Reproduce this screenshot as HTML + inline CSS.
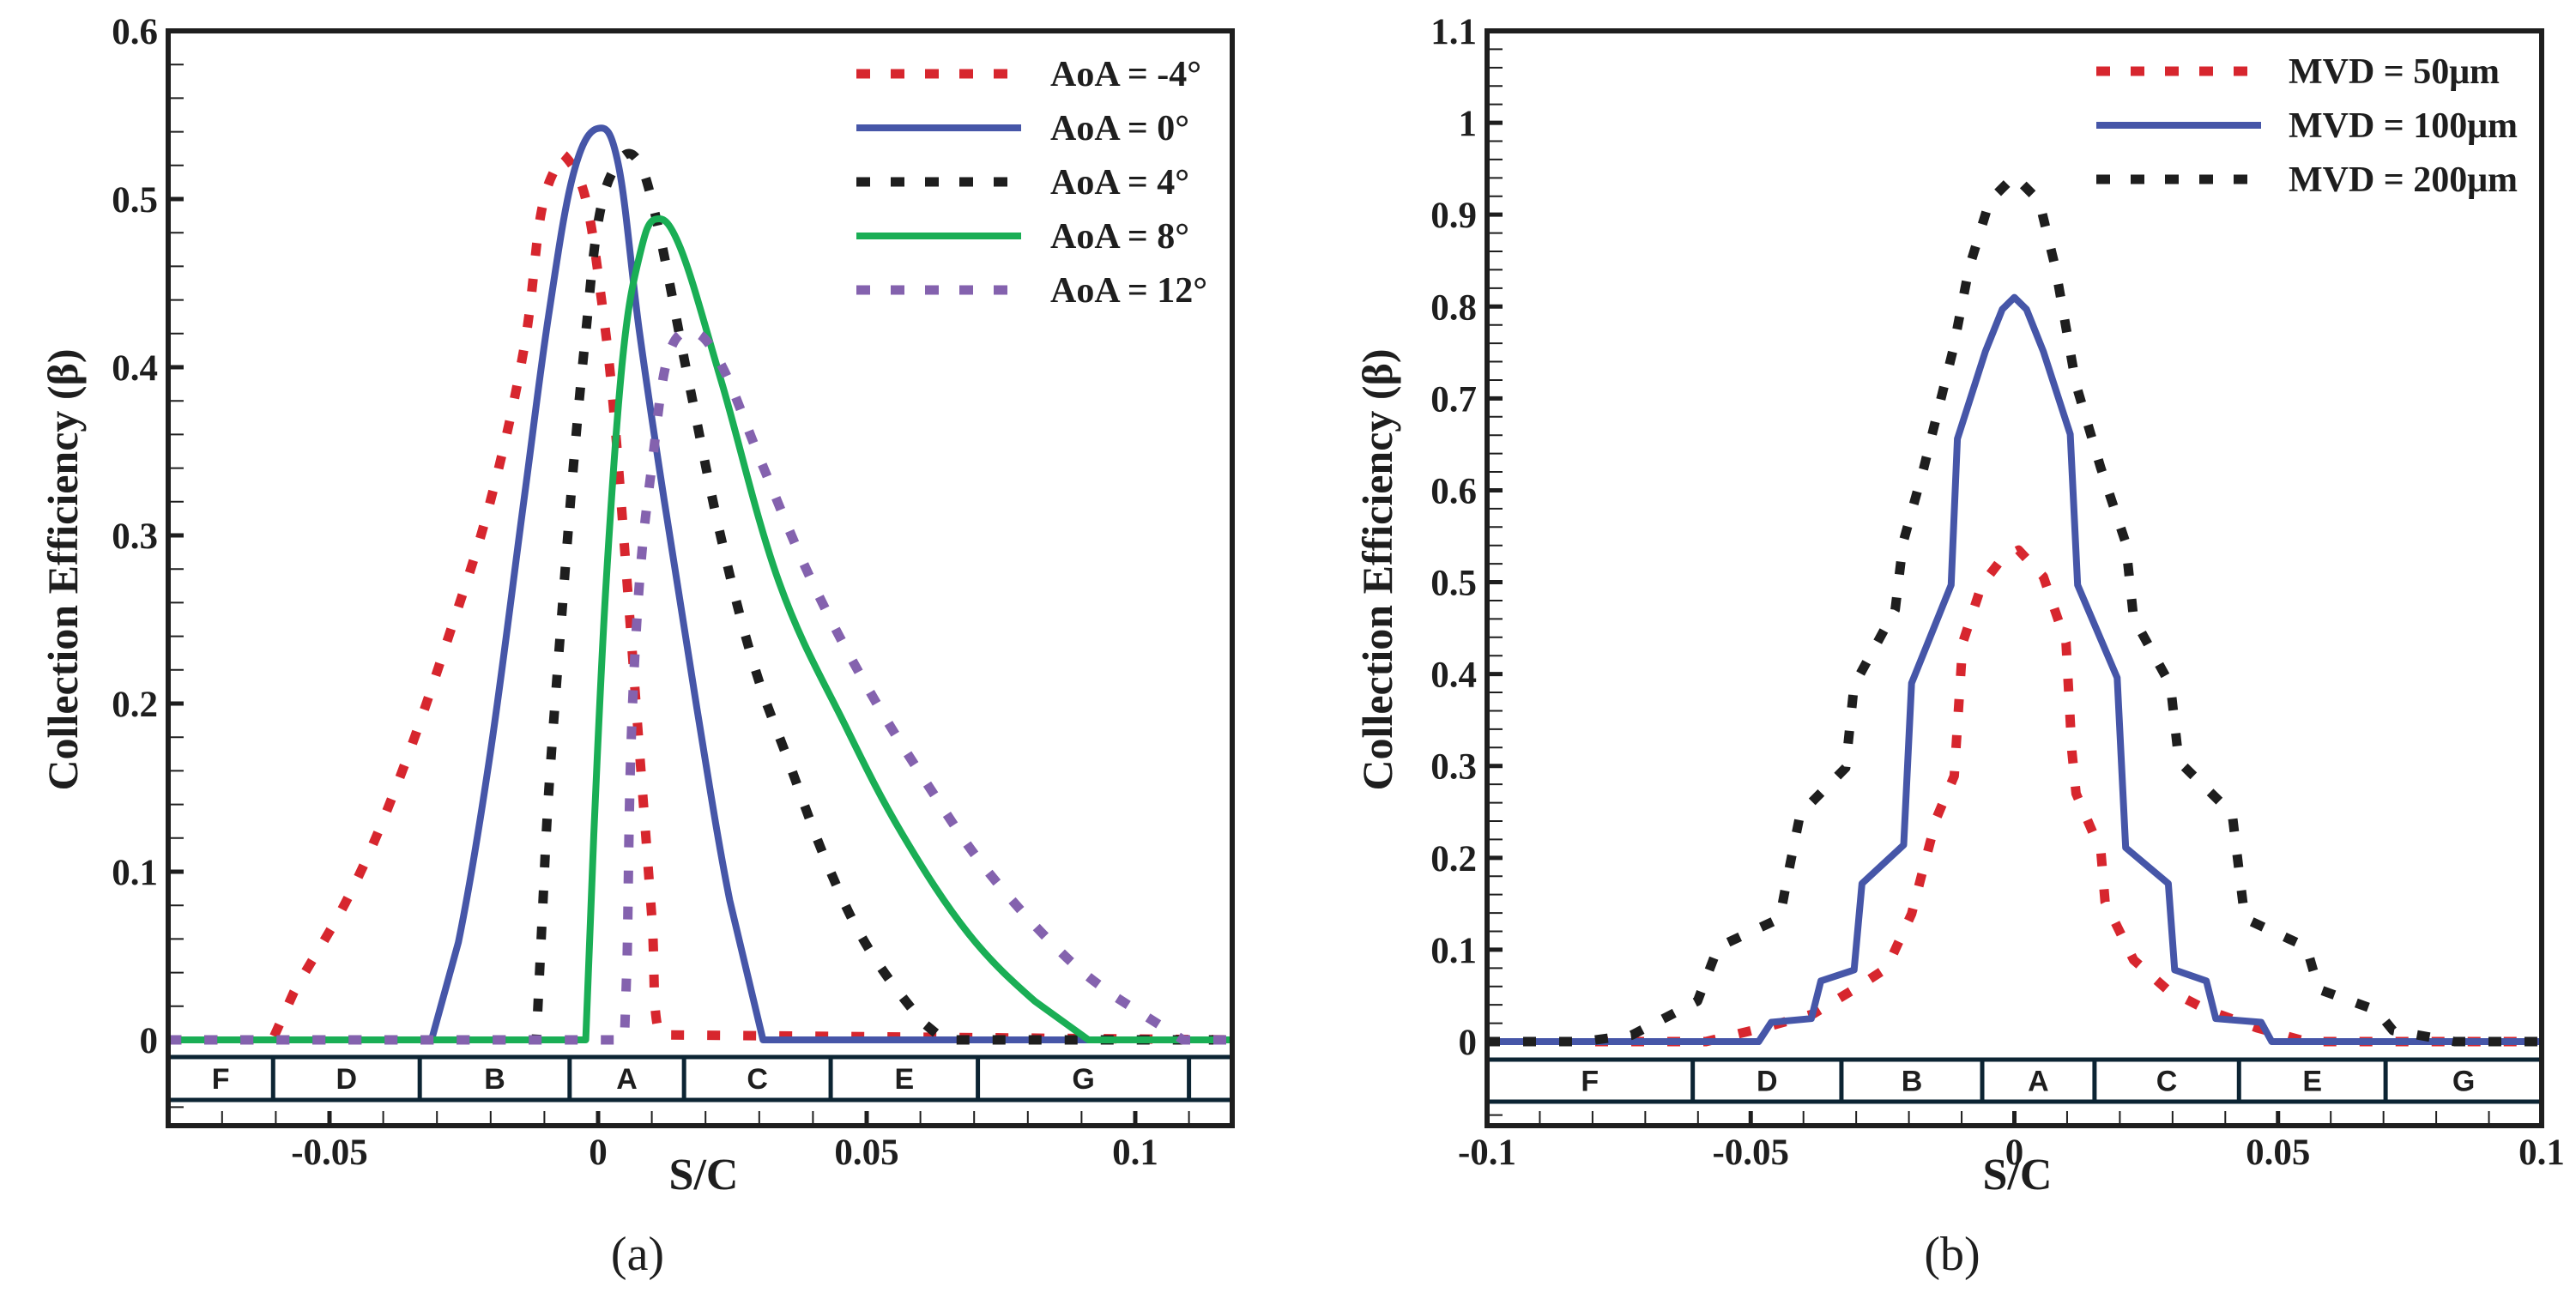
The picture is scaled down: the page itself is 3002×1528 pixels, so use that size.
<!DOCTYPE html>
<html><head><meta charset="utf-8"><style>
html,body{margin:0;padding:0;background:#fff;}
svg{display:block;}
text{font-family:"Liberation Serif",serif;}
</style></head><body>
<svg id="root" width="3002" height="1528" viewBox="0 0 3002 1528" xmlns="http://www.w3.org/2000/svg"></svg>
<script>
// ---------- Chart (a) data ----------
const aXTicks = [-0.05, 0, 0.05, 0.1];
const aXTickLabels = ["-0.05", "0", "0.05", "0.1"];
const aYTicks = [0, 0.1, 0.2, 0.3, 0.4, 0.5, 0.6];
const aYTickLabels = ["0", "0.1", "0.2", "0.3", "0.4", "0.5", "0.6"];
const aZoneNames = ["F", "D", "B", "A", "C", "E", "G", ""];
const aZoneBounds = [-0.0605, -0.0332, -0.0053, 0.016, 0.0433, 0.0707, 0.110];
const aLegend = ["AoA = -4°", "AoA = 0°", "AoA = 4°", "AoA = 8°", "AoA = 12°"];
const aM4x = [-0.08, -0.0606, -0.0567, -0.046, -0.0368, -0.0276, -0.02, -0.0138, -0.0107, -0.0077, -0.006, -0.0023, 0.0008, 0.003, 0.0054, 0.0077, 0.01, 0.0115, 0.118];
const aM4y = [0, 0, 0.028, 0.088, 0.157, 0.242, 0.321, 0.411, 0.49, 0.52, 0.525, 0.5, 0.436, 0.371, 0.272, 0.172, 0.073, 0.003, 0];
const a0x = [-0.08, -0.031, -0.026, -0.02, -0.0138, -0.0092, -0.0046, 0, 0.0038, 0.0077, 0.0123, 0.0184, 0.0245, 0.0307, 0.118];
const a0y = [0, 0, 0.058, 0.172, 0.321, 0.431, 0.515, 0.542, 0.52, 0.421, 0.321, 0.197, 0.083, 0, 0];
const a4x = [-0.08, -0.0115, -0.0104, -0.0092, -0.0069, -0.0046, -0.0023, 0, 0.003, 0.0069, 0.0107, 0.0169, 0.023, 0.0291, 0.0353, 0.043, 0.0506, 0.0606, 0.0644, 0.118];
const a4y = [0, 0, 0.073, 0.147, 0.247, 0.341, 0.42, 0.486, 0.518, 0.525, 0.49, 0.391, 0.297, 0.222, 0.167, 0.102, 0.053, 0.010, 0, 0];
const a8x = [-0.08, -0.0023, -0.0008, 0.0015, 0.0046, 0.0077, 0.0107, 0.0153, 0.023, 0.0337, 0.046, 0.0567, 0.069, 0.0813, 0.0913, 0.118];
const a8y = [0, 0, 0.122, 0.272, 0.406, 0.466, 0.488, 0.471, 0.391, 0.272, 0.187, 0.122, 0.063, 0.023, 0, 0];
const a12x = [-0.08, 0.0049, 0.0054, 0.0061, 0.0077, 0.01, 0.013, 0.0176, 0.023, 0.0307, 0.0399, 0.0506, 0.0613, 0.0721, 0.0859, 0.0966, 0.1089, 0.118];
const a12y = [0, 0, 0.048, 0.172, 0.272, 0.341, 0.406, 0.421, 0.401, 0.341, 0.272, 0.207, 0.152, 0.102, 0.053, 0.025, 0, 0];

// ---------- Chart (b) data ----------
const bXTicks = [-0.1, -0.05, 0, 0.05, 0.1];
const bXTickLabels = ["-0.1", "-0.05", "0", "0.05", "0.1"];
const bYTicks = [0, 0.1, 0.2, 0.3, 0.4, 0.5, 0.6, 0.7, 0.8, 0.9, 1, 1.1];
const bYTickLabels = ["0", "0.1", "0.2", "0.3", "0.4", "0.5", "0.6", "0.7", "0.8", "0.9", "1", "1.1"];
const bZoneNames = ["F", "D", "B", "A", "C", "E", "G"];
const bZoneBounds = [-0.061, -0.0328, -0.0061, 0.0152, 0.0426, 0.0704];
const bLegend = ["MVD = 50μm", "MVD = 100μm", "MVD = 200μm"];
const b50x = [-0.1, -0.0585, -0.0476, -0.0382, -0.0304, -0.0242, -0.0195, -0.0148, -0.0114, -0.0098, -0.0062, -0.0023, 0.0008, 0.0055, 0.0098, 0.0109, 0.0117, 0.0164, 0.0172, 0.0226, 0.0289, 0.0367, 0.046, 0.0554, 0.1];
const b50y = [0, 0, 0.015, 0.03, 0.057, 0.08, 0.139, 0.243, 0.289, 0.434, 0.497, 0.526, 0.535, 0.506, 0.434, 0.316, 0.27, 0.207, 0.152, 0.089, 0.057, 0.034, 0.015, 0, 0];
const b100x = [-0.1, -0.0485, -0.0461, -0.0385, -0.0367, -0.0304, -0.0289, -0.021, -0.0195, -0.012, -0.0108, -0.0055, -0.0023, 0, 0.0023, 0.0055, 0.0106, 0.012, 0.0195, 0.0211, 0.0292, 0.0304, 0.0364, 0.0382, 0.0468, 0.0488, 0.1];
const b100y = [0, 0, 0.021, 0.025, 0.066, 0.078, 0.172, 0.214, 0.39, 0.497, 0.656, 0.751, 0.797, 0.81, 0.797, 0.751, 0.661, 0.497, 0.396, 0.211, 0.172, 0.078, 0.066, 0.025, 0.021, 0, 0];
const b200x = [-0.1, -0.082, -0.0726, -0.0601, -0.0562, -0.0445, -0.043, -0.0406, -0.032, -0.0304, -0.0226, -0.0211, -0.0172, -0.0117, -0.0086, -0.0047, 0, 0.0047, 0.0078, 0.0117, 0.0164, 0.0211, 0.0226, 0.0296, 0.0312, 0.0413, 0.0437, 0.0554, 0.0577, 0.0687, 0.0718, 0.0835, 0.1];
const b200y = [0, 0, 0.007, 0.044, 0.103, 0.134, 0.18, 0.248, 0.298, 0.388, 0.47, 0.543, 0.624, 0.751, 0.842, 0.915, 0.942, 0.915, 0.842, 0.715, 0.624, 0.543, 0.461, 0.388, 0.305, 0.248, 0.134, 0.103, 0.057, 0.034, 0.012, 0, 0];

const NS = "http://www.w3.org/2000/svg";
const root = document.getElementById('root');
function mk(tag, attrs, parent) {
  const e = document.createElementNS(NS, tag);
  for (const k in attrs) e.setAttribute(k, attrs[k]);
  (parent || root).appendChild(e);
  return e;
}
const RED = "#d7262e", BLUE = "#4656a8", BLACK = "#1e1e1e", GREEN = "#1aae55", PURPLE = "#8462ae";
const DASH = "15 27";

function pathD(P, smooth, base) {
  let d = 'M' + P[0][0].toFixed(1) + ',' + P[0][1].toFixed(1);
  for (let i = 0; i < P.length - 1; i++) {
    const p1 = P[i], p2 = P[i + 1];
    const touches = Math.abs(p1[1] - base) < 0.5 || Math.abs(p2[1] - base) < 0.5;
    if (!smooth || touches) { d += 'L' + p2[0].toFixed(1) + ',' + p2[1].toFixed(1); continue; }
    const p0 = P[Math.max(0, i - 1)], p3 = P[Math.min(P.length - 1, i + 2)];
    const t = 0.18;
    let c1x = p1[0] + (p2[0] - p0[0]) * t, c1y = p1[1] + (p2[1] - p0[1]) * t;
    let c2x = p2[0] - (p3[0] - p1[0]) * t, c2y = p2[1] - (p3[1] - p1[1]) * t;
    c1x = Math.min(Math.max(c1x, p1[0]), p2[0]);
    c2x = Math.min(Math.max(c2x, p1[0]), p2[0]);
    c1y = Math.min(c1y, base);
    c2y = Math.min(c2y, base);
    d += 'C' + c1x.toFixed(1) + ',' + c1y.toFixed(1) + ' ' + c2x.toFixed(1) + ',' + c2y.toFixed(1) + ' ' + p2[0].toFixed(1) + ',' + p2[1].toFixed(1);
  }
  return d;
}

function drawChart(cfg) {
  const g = mk('g', {});
  
  
  const X = v => cfg.xa + (v - cfg.xva) / (cfg.xvb - cfg.xva) * (cfg.xb - cfg.xa);
  const Y = v => cfg.ya - (v - cfg.yva) / (cfg.yvb - cfg.yva) * (cfg.ya - cfg.yb);
  const L = cfg.L, R = cfg.R, T = cfg.T, B = cfg.B;
  const clipId = cfg.name + '-clip';
  const defs = mk('defs', {}, g);
  const cp = mk('clipPath', { id: clipId }, defs);
  mk('rect', { x: L, y: T, width: R - L, height: B - T }, cp);

  const yt = mk('g', {}, g);
  
  
  for (let k = -10; k <= 60; k++) {
    const v = k * 0.02;
    const y = Y(v);
    if (y < T + 3 || y > B - 3) continue;
    const major = k % 5 === 0;
    mk('line', { x1: L, x2: L + 18, y1: y, y2: y, stroke: BLACK, 'stroke-width': major ? 5 : 2 }, yt);
  }
  for (let k = -12; k <= 12; k++) {
    const v = k * 0.01;
    const x = X(v);
    if (x < L + 3 || x > R - 3) continue;
    const major = k % 5 === 0;
    mk('line', { x1: x, x2: x, y1: B, y2: B - 17, stroke: BLACK, 'stroke-width': major ? 5 : 2 }, yt);
  }

  const zb = mk('g', {}, g);
  
  
  mk('rect', { x: L, y: cfg.zTop, width: R - L, height: cfg.zBot - cfg.zTop, fill: '#fff', stroke: '#0c2433', 'stroke-width': 5 }, zb);
  cfg.zoneBounds.forEach(b => {
    mk('line', { x1: X(b), x2: X(b), y1: cfg.zTop, y2: cfg.zBot, stroke: '#0c2433', 'stroke-width': 5 }, zb);
  });
  const edgesPx = [L].concat(cfg.zoneBounds.map(X), [R]);
  cfg.zoneNames.forEach((n, i) => {
    if (!n) return;
    const t = mk('text', { x: (edgesPx[i] + edgesPx[i + 1]) / 2, y: (cfg.zTop + cfg.zBot) / 2 + 12, 'text-anchor': 'middle', 'font-size': 34, 'font-weight': 'bold', fill: '#1e1e1e', style: 'font-family:"Liberation Sans",sans-serif' }, zb);
    t.textContent = n;
    
    
  });

  const sg = mk('g', { 'clip-path': 'url(#' + clipId + ')' }, g);
  const base = Y(0);
  cfg.series.forEach(s => {
    const P = s.x.map((v, i) => [X(v), Y(s.y[i])]);
    const attrs = { d: pathD(P, cfg.smooth, base), fill: 'none', stroke: s.color, 'stroke-width': s.dash ? 11 : 8, 'stroke-linejoin': 'round' };
    if (s.dash) attrs['stroke-dasharray'] = DASH;
    const p = mk('path', attrs, sg);
    
    
  });

  const fr = mk('rect', { x: L, y: T, width: R - L, height: B - T, fill: 'none', stroke: BLACK, 'stroke-width': 6 }, g);
  
  

  cfg.yTicks.forEach((v, i) => {
    const t = mk('text', { x: cfg.yLabelRight, y: Y(v) + 15, 'text-anchor': 'end', 'font-size': 43, 'font-weight': 'bold', fill: BLACK }, g);
    t.textContent = cfg.yTickLabels[i];
    
    
  });
  cfg.xTicks.forEach((v, i) => {
    const t = mk('text', { x: X(v), y: 1357, 'text-anchor': 'middle', 'font-size': 43, 'font-weight': 'bold', fill: BLACK }, g);
    t.textContent = cfg.xTickLabels[i];
    
    
  });
  const xt = mk('text', { x: cfg.xTitleX, y: 1386, 'text-anchor': 'middle', 'font-size': 52, 'font-weight': 'bold', fill: BLACK }, g);
  xt.textContent = 'S/C';
  
  
  const ytt = mk('text', { x: 0, y: 0, transform: 'translate(' + cfg.yTitleX + ',664) rotate(-90)', 'text-anchor': 'middle', 'font-size': 50, 'font-weight': 'bold', fill: BLACK }, g);
  ytt.textContent = 'Collection Efficiency (β)';
  
  
  const cap = mk('text', { x: cfg.capX, y: 1480, 'text-anchor': 'middle', 'font-size': 56, fill: BLACK }, g);
  cap.textContent = cfg.caption;
  
  

  const lg = mk('g', {}, g);
  
  
  cfg.series.forEach((s, i) => {
    const y = cfg.legY + i * cfg.legStep;
    const la = { x1: cfg.legX1, x2: cfg.legX2, y1: y, y2: y, stroke: s.color, 'stroke-width': s.dash ? 11 : 8 };
    if (s.dash) la['stroke-dasharray'] = '16 24';
    const ln = mk('line', la, lg);
    
    
    const t = mk('text', { x: cfg.legTX, y: y + 14, 'font-size': 42, 'font-weight': 'bold', fill: BLACK }, lg);
    t.textContent = cfg.legend[i];
    
    
  });
}

drawChart({
  name: 'chart-a', caption: '(a)', capX: 743, smooth: true,
  L: 196, R: 1436, T: 36, B: 1312, zTop: 1232, zBot: 1282,
  xva: 0, xvb: 0.1, xa: 697, xb: 1323, yva: 0, yvb: 0.6, ya: 1212, yb: 36,
  yTicks: aYTicks, yTickLabels: aYTickLabels, xTicks: aXTicks, xTickLabels: aXTickLabels,
  zoneNames: aZoneNames, zoneBounds: aZoneBounds, legend: aLegend,
  yLabelRight: 184, xTitleX: 820, yTitleX: 90,
  legY: 86, legStep: 63, legX1: 998, legX2: 1190, legTX: 1224,
  series: [
    { name: 'line-aoa-minus4', x: aM4x, y: aM4y, color: RED, dash: true },
    { name: 'line-aoa-0', x: a0x, y: a0y, color: BLUE, dash: false },
    { name: 'line-aoa-4', x: a4x, y: a4y, color: BLACK, dash: true },
    { name: 'line-aoa-8', x: a8x, y: a8y, color: GREEN, dash: false },
    { name: 'line-aoa-12', x: a12x, y: a12y, color: PURPLE, dash: true }
  ]
});
drawChart({
  name: 'chart-b', caption: '(b)', capX: 2275, smooth: false,
  L: 1733, R: 2962, T: 36, B: 1312, zTop: 1235, zBot: 1284,
  xva: -0.1, xvb: 0.1, xa: 1733, xb: 2962, yva: 0, yvb: 1.1, ya: 1214, yb: 36,
  yTicks: bYTicks, yTickLabels: bYTickLabels, xTicks: bXTicks, xTickLabels: bXTickLabels,
  zoneNames: bZoneNames, zoneBounds: bZoneBounds, legend: bLegend,
  yLabelRight: 1721, xTitleX: 2351, yTitleX: 1622,
  legY: 83, legStep: 63, legX1: 2443, legX2: 2635, legTX: 2667,
  series: [
    { name: 'line-mvd-50', x: b50x, y: b50y, color: RED, dash: true },
    { name: 'line-mvd-100', x: b100x, y: b100y, color: BLUE, dash: false },
    { name: 'line-mvd-200', x: b200x, y: b200y, color: BLACK, dash: true }
  ]
});
</script>
</body></html>
